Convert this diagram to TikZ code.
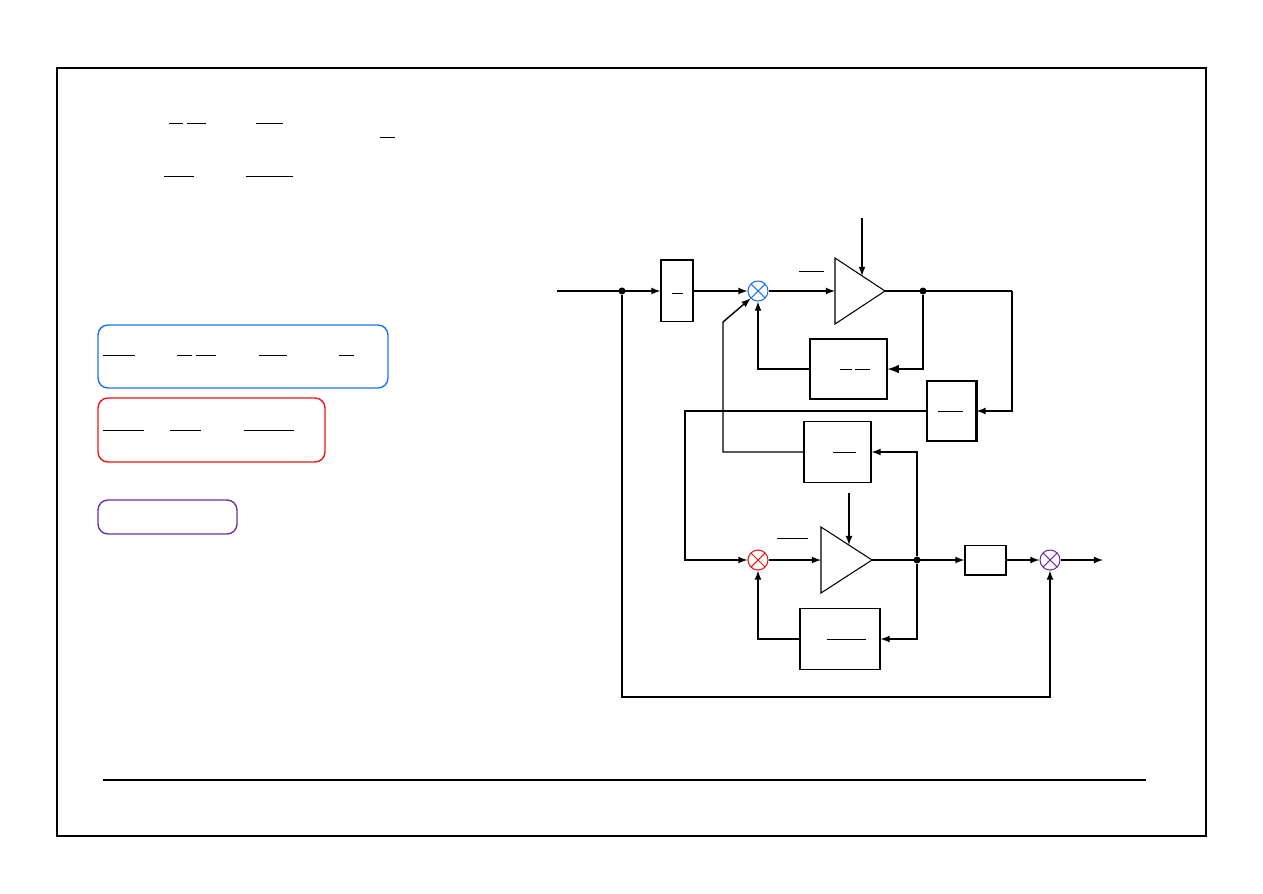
\documentclass[tikz,border=0pt]{standalone}
\usetikzlibrary{calc}
\definecolor{sumblue}{RGB}{26,115,240}
\definecolor{sumred}{RGB}{240,20,20}
\definecolor{sumpurple}{RGB}{112,48,160}
\begin{document}
\begin{tikzpicture}[x=0.02cm,y=-0.02cm,>=latex,line width=0.8pt,font=\small,
  blk/.style={draw,line width=0.6pt,inner sep=0pt},
  sumx/.style={circle,draw,color=#1,line width=0.6pt,minimum size=0.4cm,inner sep=0pt,
    path picture={\draw[#1,line width=0.6pt] (path picture bounding box.south west)--(path picture bounding box.north east)
      (path picture bounding box.north west)--(path picture bounding box.south east);}},
  note/.style={draw=#1,rounded corners=0.2cm,line width=0.8pt,inner sep=0pt},
  jn/.style={circle,fill,inner sep=0pt,minimum size=4pt}]
\useasboundingbox (0,0) rectangle (1263,893);
\draw[line width=0.6pt] (57,68) rectangle (1206,836);
\draw[line width=0.6pt] (103,780)--(1146,780);
% legend boxes
\node[note=sumblue,minimum width=5.8cm,minimum height=1.26cm] (legblue) at (243,356.5) {};
\node[note=sumred,minimum width=4.54cm,minimum height=1.28cm] (legred) at (211.5,430) {};
\node[note=sumpurple,minimum width=2.78cm,minimum height=0.68cm] (legpurple) at (167.5,517) {};
% blocks
\node[blk,minimum width=0.64cm,minimum height=1.22cm] (bA) at (677,291) {};
\node[blk,minimum width=1.54cm,minimum height=1.2cm] (bB) at (848.5,369) {};
\node[blk,minimum width=0.98cm,minimum height=1.2cm] (bC) at (951.5,411) {};
\node[blk,minimum width=1.34cm,minimum height=1.22cm] (bD) at (837.5,452) {};
\node[blk,minimum width=1.6cm,minimum height=1.22cm] (bE) at (840,639) {};
\node[blk,minimum width=0.82cm,minimum height=0.58cm] (bF) at (985.5,560) {};
\draw[line width=1.4pt] (bA.north west)--(bA.north east);
\draw[line width=1.4pt] (bC.north east)--(bC.south east);
\draw[line width=1.4pt] (bF.south west)--(bF.south east);
% summing points
\node[sumx=sumblue] (s1) at (758,291) {};
\node[sumx=sumred] (s2) at (758,560) {};
\node[sumx=sumpurple] (s3) at (1050,560) {};
% amplifiers
\draw[line width=0.6pt] (835,258)--(885,291)--(835,324)--cycle;
\draw[line width=0.6pt] (821,527)--(872,560)--(821,593)--cycle;
\coordinate (a1in) at (835,291); \coordinate (a1out) at (885,291);
\coordinate (a2in) at (821,560); \coordinate (a2out) at (872,560);
\coordinate (a1ctl) at (862,218); \coordinate (a1top) at (862,276);
\coordinate (a2ctl) at (849,493); \coordinate (a2top) at (849,545);
% junctions
\coordinate (in) at (557,291); \coordinate (out) at (1103,560);
\node[jn] (j1) at (622,291) {};
\node[jn] (j2) at (923,291) {};
\node[jn] (j3) at (917,560) {};
\coordinate (c1) at (1012,291);
% fraction bars
\foreach \xa/\xb/\y in {169/183/123,187/206/123,256/283/123,380/395/137,164/194/176,246/293/176,
  103/135/355,177/192/355,196/216/355,259/287/355,339/354/355,103/144/430,170/201/430,244/294/430,
  672/683/293,799/824/271,840/852/369,855/870/369,938/963/411,833/856/452,777/808/538,827/866/639}
  \draw[line width=0.5pt] (\xa,\y)--(\xb,\y);
% connectors
\draw[->] (in) -- (bA.west);
\draw[->] (bA.east) -- (s1.west);
\draw[->] (s1.east) -- (a1in);
\draw[->] (a1ctl) -- (a1top);
\draw[line width=1.2pt] (a1out) -- (c1);
\draw[->,line width=1.2pt] (j2) |- (bB.east);
\draw[->] (bB.west) -| (s1.south);
\draw[->] (c1) |- (bC.east);
\draw[->] (bC.west) -| (685,560) -- (s2.west);
\draw[->] (j3) |- (bD.east);
\draw[->] (bD.west) -| (723,322) -- (s1.south west);
\draw[->] (s2.east) -- (a2in);
\draw[->] (a2ctl) -- (a2top);
\draw[->] (a2out) -- (bF.west);
\draw[->] (j3) |- (bE.east);
\draw[->] (bE.west) -| (s2.south);
\draw[->] (bF.east) -- (s3.west);
\draw[->] (s3.east) -- (out);
\draw[->] (j1) -- (622,697) -| (s3.south);
\end{tikzpicture}
\end{document}
